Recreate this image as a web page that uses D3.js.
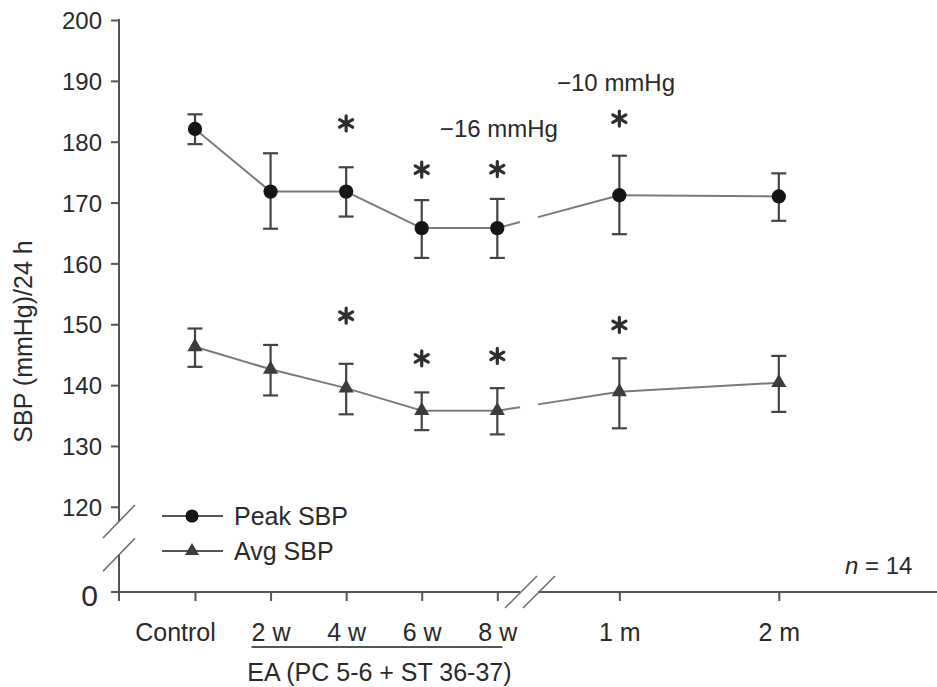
<!DOCTYPE html>
<html>
<head>
<meta charset="utf-8">
<script src="https://cdn.jsdelivr.net/npm/d3@7"></script>
<style>
  html, body { margin: 0; padding: 0; background: #fff; }
  svg { display: block; font-family: "Liberation Sans", Arial, sans-serif; }
  text { fill: #2a2a2a; }
</style>
</head>
<body>
<svg width="937" height="687"></svg>
<script>
// time points along the x axis
const categories = ["Control", "2 w", "4 w", "6 w", "8 w", "1 m", "2 m"];
// axis position of each time point, in weeks (axis is broken after 8 w)
const xUnits = [0, 2, 4, 6, 8, 11.23, 15.45];

// peak SBP mean and error bar ends
const peakMean = [182.1, 171.8, 171.8, 165.8, 165.8, 171.2, 171.0];
const peakHi = [184.5, 178.1, 175.8, 170.4, 170.6, 177.7, 174.8];
const peakLo = [179.6, 165.7, 167.7, 160.9, 160.9, 164.8, 167.0];

// average SBP mean and error bar ends
const avgMean = [146.3, 142.6, 139.5, 135.8, 135.8, 138.9, 140.4];
const avgHi = [149.3, 146.6, 143.5, 138.8, 139.5, 144.4, 144.8];
const avgLo = [143.0, 138.3, 135.2, 132.6, 131.9, 132.9, 135.6];

// significance marks (value where the asterisk sits, null = none)
const peakStars = [null, null, 183.0, 175.4, 175.5, 183.8, null];
const avgStars = [null, null, 151.4, 144.4, 144.8, 149.9, null];

const yTicks = [120, 130, 140, 150, 160, 170, 180, 190, 200];

const svg = d3.select("svg");

const x = d3.scaleLinear().domain([0, 8]).range([195, 497.3]);
const y = d3.scaleLinear().domain([120, 200]).range([506.8, 20]);
const yZero = 592;
const axisX = 119;
const xBreak = [x.invert(520), x.invert(538)];

const axisColor = "#555";

// y axis ticks + labels
const yAxis = svg
  .append("g")
  .attr("transform", `translate(${axisX},0)`)
  .call(d3.axisLeft(y).tickValues(yTicks).tickSize(8).tickPadding(9));
yAxis.select(".domain").remove();
yAxis.selectAll("line").attr("stroke", axisColor).attr("stroke-width", 2);
yAxis
  .selectAll("text")
  .attr("font-size", 24)
  .attr("fill", "#2a2a2a")
  .attr("dy", "0.36em");

// zero label + tick
svg
  .append("line")
  .attr("x1", axisX - 8)
  .attr("x2", axisX)
  .attr("y1", yZero)
  .attr("y2", yZero)
  .attr("stroke", axisColor)
  .attr("stroke-width", 2);
svg
  .append("text")
  .attr("x", 98)
  .attr("y", yZero + 3)
  .attr("text-anchor", "end")
  .attr("dy", "0.36em")
  .attr("font-size", 30)
  .text("0");

// y axis line with break
const yBreakTop = 521.5;
const yBreakBot = 554.8;
svg
  .append("line")
  .attr("x1", axisX)
  .attr("x2", axisX)
  .attr("y1", y(200) - 1)
  .attr("y2", yBreakTop)
  .attr("stroke", axisColor)
  .attr("stroke-width", 2);
svg
  .append("line")
  .attr("x1", axisX)
  .attr("x2", axisX)
  .attr("y1", yBreakBot)
  .attr("y2", yZero + 9)
  .attr("stroke", axisColor)
  .attr("stroke-width", 2);
[yBreakTop, yBreakBot].forEach((cy) => {
  svg
    .append("line")
    .attr("x1", axisX - 16)
    .attr("y1", cy + 16.5)
    .attr("x2", axisX + 16)
    .attr("y2", cy - 16.5)
    .attr("stroke", "#666")
    .attr("stroke-width", 1.5);
});

// x axis ticks + labels
const xAxis = svg
  .append("g")
  .attr("transform", `translate(0,${yZero})`)
  .call(
    d3
      .axisBottom(x)
      .tickValues(xUnits)
      .tickSize(9)
      .tickFormat((d, i) => categories[i])
  );
xAxis.select(".domain").remove();
xAxis.selectAll("line").attr("stroke", axisColor).attr("stroke-width", 2);
xAxis
  .selectAll("text")
  .attr("font-size", 25)
  .attr("fill", "#2a2a2a")
  .attr("y", 40)
  .attr("x", (d, i) => (i === 0 ? -20 : 0))
  .attr("dy", "0.36em");

// x axis line with break
const bx0 = x(xBreak[0]);
const bx1 = x(xBreak[1]);
svg
  .append("line")
  .attr("x1", axisX - 8)
  .attr("x2", bx0)
  .attr("y1", yZero)
  .attr("y2", yZero)
  .attr("stroke", axisColor)
  .attr("stroke-width", 2);
svg
  .append("line")
  .attr("x1", bx1)
  .attr("x2", 937)
  .attr("y1", yZero)
  .attr("y2", yZero)
  .attr("stroke", axisColor)
  .attr("stroke-width", 2);
[bx0 + 1, bx1 + 1].forEach((cx) => {
  svg
    .append("line")
    .attr("x1", cx - 16)
    .attr("y1", yZero + 16)
    .attr("x2", cx + 16)
    .attr("y2", yZero - 16)
    .attr("stroke", "#666")
    .attr("stroke-width", 1.5);
});

// treatment bracket + label
svg
  .append("line")
  .attr("x1", x(2) - 19)
  .attr("x2", x(8) + 5)
  .attr("y1", 647)
  .attr("y2", 647)
  .attr("stroke", axisColor)
  .attr("stroke-width", 2);
svg
  .append("text")
  .attr("x", (x(2) - 19 + x(8) + 10) / 2)
  .attr("y", 672)
  .attr("dy", "0.36em")
  .attr("text-anchor", "middle")
  .attr("font-size", 25)
  .text("EA (PC 5-6 + ST 36-37)");

// y axis title
svg
  .append("text")
  .attr("transform", "translate(23,341.5) rotate(-90)")
  .attr("text-anchor", "middle")
  .attr("dy", "0.36em")
  .attr("font-size", 25)
  .text("SBP (mmHg)/24 h");

// series drawing
const lineColor = "#7a7a7a";
const errColor = "#444";
const capHalf = 7.5;

function drawSeries(mean, hi, lo, stars, marker) {
  const g = svg.append("g");
  // connecting segments, interrupted at the axis break
  for (let i = 0; i < mean.length - 1; i++) {
    const x0 = xUnits[i], x1 = xUnits[i + 1];
    const y0 = mean[i], y1 = mean[i + 1];
    const at = (u) => y0 + ((u - x0) / (x1 - x0)) * (y1 - y0);
    let parts = [[[x0, y0], [x1, y1]]];
    if (x0 < xBreak[0] && x1 > xBreak[1]) {
      parts = [
        [[x0, y0], [xBreak[0], at(xBreak[0])]],
        [[xBreak[1], at(xBreak[1])], [x1, y1]]
      ];
    }
    parts.forEach((p) => {
      g.append("line")
        .attr("x1", x(p[0][0]))
        .attr("y1", y(p[0][1]))
        .attr("x2", x(p[1][0]))
        .attr("y2", y(p[1][1]))
        .attr("stroke", lineColor)
        .attr("stroke-width", 2);
    });
  }
  // error bars
  const eb = g
    .selectAll("g.err")
    .data(mean)
    .enter()
    .append("g")
    .attr("class", "err");
  eb.append("line")
    .attr("x1", (d, i) => x(xUnits[i]))
    .attr("x2", (d, i) => x(xUnits[i]))
    .attr("y1", (d, i) => y(hi[i]))
    .attr("y2", (d, i) => y(lo[i]));
  eb.append("line")
    .attr("x1", (d, i) => x(xUnits[i]) - capHalf)
    .attr("x2", (d, i) => x(xUnits[i]) + capHalf)
    .attr("y1", (d, i) => y(hi[i]))
    .attr("y2", (d, i) => y(hi[i]));
  eb.append("line")
    .attr("x1", (d, i) => x(xUnits[i]) - capHalf)
    .attr("x2", (d, i) => x(xUnits[i]) + capHalf)
    .attr("y1", (d, i) => y(lo[i]))
    .attr("y2", (d, i) => y(lo[i]));
  eb.selectAll("line").attr("stroke", errColor).attr("stroke-width", 2.2);
  // markers
  g.selectAll("path.mk")
    .data(mean)
    .enter()
    .append("path")
    .attr("class", "mk")
    .attr("d", marker.path)
    .attr("fill", marker.fill)
    .attr("transform", (d, i) => `translate(${x(xUnits[i])},${y(d)})`);
  // asterisks
  const starSym = d3.symbol().type(d3.symbolAsterisk || d3.symbolCross).size(160);
  g.selectAll("path.star")
    .data(stars.map((s, i) => ({ s, i })).filter((d) => d.s !== null))
    .enter()
    .append("path")
    .attr("class", "star")
    .attr("d", starSym)
    .attr("fill", "none")
    .attr("stroke", "#2e2e2e")
    .attr("stroke-width", 3.2)
    .attr("stroke-linecap", "round")
    .attr("transform", (d) => `translate(${x(xUnits[d.i])},${y(d.s)})`);
}

const dotMarker = { path: d3.symbol().type(d3.symbolCircle).size(160)(), fill: "#151515" };
const triMarker = { path: d3.symbol().type(d3.symbolTriangle).size(100)(), fill: "#3c3c3c" };

drawSeries(peakMean, peakHi, peakLo, peakStars, dotMarker);
drawSeries(avgMean, avgHi, avgLo, avgStars, triMarker);

// change annotations
svg
  .append("text")
  .attr("x", x(6.48))
  .attr("y", y(182.25))
  .attr("dy", "0.36em")
  .attr("font-size", 24)
  .text("\u221216 mmHg");
svg
  .append("text")
  .attr("x", x(9.58))
  .attr("y", y(189.8))
  .attr("dy", "0.36em")
  .attr("font-size", 24)
  .text("\u221210 mmHg");

// legend
const legendItems = [
  { label: "Peak SBP", marker: dotMarker, yy: 516 },
  { label: "Avg SBP", marker: triMarker, yy: 551 }
];
const legend = svg
  .selectAll("g.legend")
  .data(legendItems)
  .enter()
  .append("g")
  .attr("class", "legend")
  .attr("transform", (d) => `translate(0,${d.yy})`);
legend
  .append("line")
  .attr("x1", 162)
  .attr("x2", 223)
  .attr("stroke", "#555")
  .attr("stroke-width", 2);
legend
  .append("path")
  .attr("d", (d) => d.marker.path)
  .attr("fill", (d) => d.marker.fill)
  .attr("transform", "translate(192,0) scale(0.92)");
legend
  .append("text")
  .attr("x", 234)
  .attr("dy", "0.36em")
  .attr("font-size", 25)
  .text((d) => d.label);

// sample size
const nText = svg
  .append("text")
  .attr("x", 845)
  .attr("y", 565)
  .attr("dy", "0.36em")
  .attr("font-size", 24);
nText.append("tspan").attr("font-style", "italic").text("n");
nText.append("tspan").text(" = 14");
</script>
</body>
</html>
